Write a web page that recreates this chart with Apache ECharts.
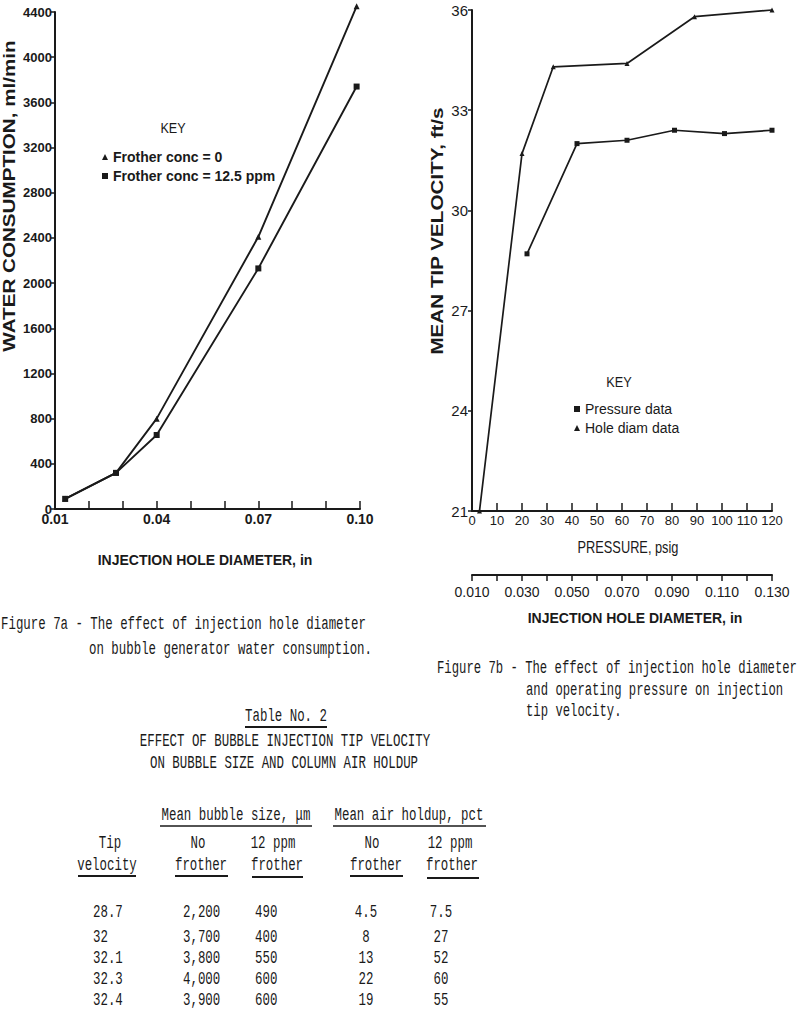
<!DOCTYPE html>
<html><head><meta charset="utf-8">
<script src="https://cdn.jsdelivr.net/npm/echarts@6/dist/echarts.min.js"></script>
<style>html,body{margin:0;padding:0;background:#fff}#c{width:800px;height:1025px}</style>
</head><body><div id="c"></div>
<script>
// ---- Figure 7a data ----
const diam7a = [0.013, 0.028, 0.04, 0.07, 0.099];
const waterFrother0 = [90, 320, 800, 2410, 4450];
const waterFrother125 = [90, 320, 655, 2130, 3740];
const xLabels7a = [0.01, 0.04, 0.07, 0.10];
// ---- Figure 7b data ----
const holeDiam7b = [0.013, 0.030, 0.0425, 0.072, 0.099, 0.130];
const velHoleDiam = [21, 31.7, 34.3, 34.4, 35.8, 36.0];
const pressure7b = [22, 42, 62, 81, 101, 120];
const velPressure = [28.7, 32.0, 32.1, 32.4, 32.3, 32.4];
const diamLabels7b = [0.010, 0.030, 0.050, 0.070, 0.090, 0.110, 0.130];
// ---- Table No. 2 data ----
const tipVelocity = [28.7, 32, 32.1, 32.3, 32.4];
const bubbleNoFrother = [2200, 3700, 3800, 4000, 3900];
const bubble12ppm = [490, 400, 550, 600, 600];
const holdupNoFrother = [4.5, 8, 13, 22, 19];
const holdup12ppm = [7.5, 27, 52, 60, 55];

const INK = '#1a1a1a';
const SANSW = '"Liberation Sans",Arial,sans-serif';
const MONO = '"Liberation Mono","DejaVu Sans Mono",monospace';

function zip(xs, ys){ return xs.map((x,i)=>[x, ys[i]]); }
function near(v, list){ return list.some(t => Math.abs(t - v) < 1e-6); }

const graphics = [];
function mono(x, y, text, align, sx){
  graphics.push({type:'text', x:x, y:y, scaleX:sx||0.71, silent:true,
    style:{text:String(text), fontFamily:MONO, fontSize:17.5, fill:INK, align:align||'left', verticalAlign:'middle'}});
}
function uline(x1, x2, y, w){
  graphics.push({type:'line', silent:true, shape:{x1:x1,y1:y,x2:x2,y2:y}, style:{stroke:INK, lineWidth:w||1.5}});
}
function sans(x, y, text, opt){
  opt = opt || {};
  graphics.push({type:'text', x:x, y:y, rotation:opt.rot||0, scaleX:opt.sx||1, silent:true,
    style:{text:text, fontFamily:opt.family||SANSW, fontWeight:opt.weight||'bold', fontSize:opt.size||14, fill:INK,
      align:opt.align||'center', verticalAlign:'middle'}});
}

// Axis titles / keys
sans(9, 196, 'WATER CONSUMPTION, ml/min', {rot:Math.PI/2, size:16, sx:1.29});
sans(205, 560, 'INJECTION HOLE DIAMETER, in', {size:14});
sans(173, 128, 'KEY', {size:14, weight:'normal', sx:0.9});
sans(437, 231, 'MEAN TIP VELOCITY, ft/s', {rot:Math.PI/2, size:16, sx:1.29});
sans(628, 547, 'PRESSURE, psig', {size:16, weight:'normal', sx:0.8});
sans(635, 618, 'INJECTION HOLE DIAMETER, in', {size:14});
sans(619, 382, 'KEY', {size:15, weight:'normal', sx:0.85});

// Captions
mono(1, 624, 'Figure 7a - The effect of injection hole diameter');
mono(89, 649, 'on bubble generator water consumption.');
mono(437, 668, 'Figure 7b - The effect of injection hole diameter', 'left', 0.70);
mono(526, 690, 'and operating pressure on injection', 'left', 0.70);
mono(526, 711, 'tip velocity.', 'left', 0.70);

// Table
mono(286, 716, 'Table No. 2', 'center');
uline(245, 327, 727, 1.8);
mono(285, 741, 'EFFECT OF BUBBLE INJECTION TIP VELOCITY', 'center');
mono(284, 763, 'ON BUBBLE SIZE AND COLUMN AIR HOLDUP', 'center');
mono(236, 815, 'Mean bubble size, \u03bcm', 'center');
uline(160, 312, 826);
mono(409, 815, 'Mean air holdup, pct', 'center');
uline(333, 486, 826);
mono(110, 843, 'Tip', 'center');
mono(107, 865, 'velocity', 'center');
uline(78, 136, 876, 1.8);
mono(198, 843, 'No', 'center');
mono(201, 865, 'frother', 'center');
uline(175, 228, 876, 1.8);
mono(273, 843, '12 ppm', 'center');
mono(277, 865, 'frother', 'center');
uline(252, 303, 877, 1.8);
mono(372, 843, 'No', 'center');
mono(376, 865, 'frother', 'center');
uline(350, 403, 876, 1.8);
mono(450, 843, '12 ppm', 'center');
mono(452, 865, 'frother', 'center');
uline(427, 479, 878, 1.8);

const rowY = [912, 937, 958, 979, 1000];
tipVelocity.forEach((v,i)=>{
  mono(93, rowY[i], v);
  mono(183, rowY[i], bubbleNoFrother[i].toLocaleString('en-US'));
  mono(255, rowY[i], bubble12ppm[i]);
  mono(366, rowY[i], holdupNoFrother[i], 'center');
  mono(441, rowY[i], holdup12ppm[i], 'center');
});

const lineStyle = {color:INK, width:1.9};
const chart = echarts.init(document.getElementById('c'), null, {renderer:'svg'});
chart.setOption({
  backgroundColor:'#fff',
  animation:false,
  grid:[
    {left:55, top:12, width:305, height:497},
    {left:472, top:10, width:300, height:501}
  ],
  xAxis:[
    {type:'value', gridIndex:0, min:0.01, max:0.10, interval:0.01,
      axisLine:{lineStyle:{color:INK, width:2}},
      axisTick:{inside:true, length:8, lineStyle:{color:INK, width:1.5}},
      splitLine:{show:false},
      axisLabel:{margin:3, color:INK, fontFamily:SANSW, fontWeight:'bold', fontSize:14, showMinLabel:true, showMaxLabel:true,
        formatter:v => near(v, xLabels7a) ? v.toFixed(2) : ''}},
    {type:'value', gridIndex:1, min:0, max:120, interval:10,
      axisLine:{lineStyle:{color:INK, width:2}},
      axisTick:{inside:true, length:8, lineStyle:{color:INK, width:1.5}},
      splitLine:{show:false},
      axisLabel:{margin:3, color:INK, fontFamily:SANSW, fontSize:13, showMinLabel:true, showMaxLabel:true,
        formatter:v => String(v)}},
    {type:'value', gridIndex:1, position:'bottom', offset:64, min:0.01, max:0.13, interval:0.01,
      axisLine:{onZero:false, lineStyle:{color:INK, width:2}},
      axisTick:{inside:false, length:6, lineStyle:{color:INK, width:1.5}},
      splitLine:{show:false},
      axisLabel:{margin:10, color:INK, fontFamily:SANSW, fontSize:14, showMinLabel:true, showMaxLabel:true,
        formatter:v => near(v, diamLabels7b) ? v.toFixed(3) : ''}}
  ],
  yAxis:[
    {type:'value', gridIndex:0, min:0, max:4400, interval:400,
      axisLine:{show:true, lineStyle:{color:INK, width:2}},
      axisTick:{show:true, length:4, lineStyle:{color:INK, width:1.5}},
      splitLine:{show:false},
      axisLabel:{margin:3, color:INK, fontFamily:SANSW, fontWeight:'bold', fontSize:13, formatter:v => String(v)}},
    {type:'value', gridIndex:1, min:21, max:36, interval:3,
      axisLine:{show:true, lineStyle:{color:INK, width:2}},
      axisTick:{show:true, length:4, lineStyle:{color:INK, width:1.5}},
      splitLine:{show:false},
      axisLabel:{margin:4, color:INK, fontFamily:SANSW, fontSize:15, formatter:v => String(v)}}
  ],
  legend:[
    {orient:'vertical', left:97, top:145, itemWidth:6, itemHeight:6, itemGap:5,
      textStyle:{color:INK, fontFamily:SANSW, fontWeight:'bold', fontSize:14, lineHeight:14},
      data:[{name:'Frother conc = 0', icon:'triangle'}, {name:'Frother conc = 12.5 ppm', icon:'rect'}]},
    {orient:'vertical', left:569, top:397, itemWidth:6, itemHeight:6, itemGap:5,
      textStyle:{color:INK, fontFamily:SANSW, fontSize:14, lineHeight:14},
      data:[{name:'Pressure data', icon:'rect'}, {name:'Hole diam data', icon:'triangle'}]}
  ],
  series:[
    {name:'Frother conc = 0', type:'line', xAxisIndex:0, yAxisIndex:0, data:zip(diam7a, waterFrother0),
      clip:false, symbol:'triangle', symbolSize:6, itemStyle:{color:INK}, lineStyle:lineStyle},
    {name:'Frother conc = 12.5 ppm', type:'line', xAxisIndex:0, yAxisIndex:0, data:zip(diam7a, waterFrother125),
      clip:false, symbol:'rect', symbolSize:6, itemStyle:{color:INK}, lineStyle:lineStyle},
    {name:'Pressure data', type:'line', xAxisIndex:1, yAxisIndex:1, data:zip(pressure7b, velPressure),
      clip:false, symbol:'rect', symbolSize:5, itemStyle:{color:INK}, lineStyle:{color:INK, width:1.7}},
    {name:'Hole diam data', type:'line', xAxisIndex:2, yAxisIndex:1, data:zip(holeDiam7b, velHoleDiam),
      clip:false, symbol:'triangle', symbolSize:5, itemStyle:{color:INK}, lineStyle:{color:INK, width:1.7}}
  ],
  graphic:graphics
});
</script></body></html>
